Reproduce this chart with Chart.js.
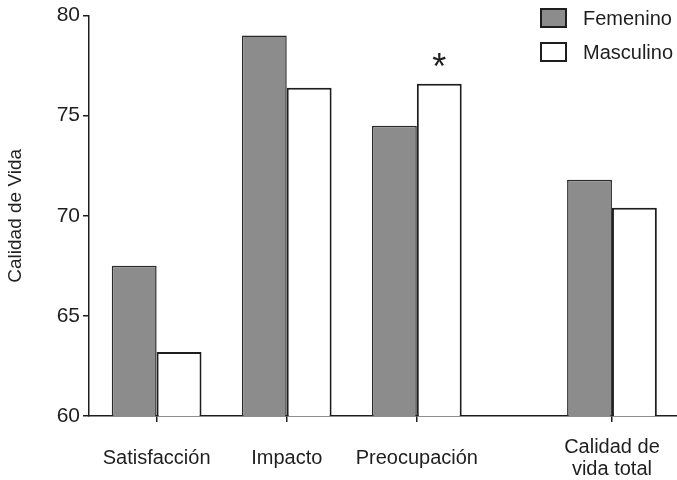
<!DOCTYPE html>
<html>
<head>
<meta charset="utf-8">
<script src="https://cdn.jsdelivr.net/npm/chart.js"></script>
<style>
  html, body { margin: 0; padding: 0; background: #fff; }
  #wrap { width: 677px; height: 480px; }
</style>
</head>
<body>
<div id="wrap"><canvas id="calidad"></canvas></div>
<script>
var categories = ['Satisfacción', 'Impacto', 'Preocupación', ['Calidad de', 'vida total']];
var slots = [1, 2, 3, 4.5]; // where each group sits on the x scale
var femenino = [67.5, 79.0, 74.5, 71.8];
var masculino = [63.2, 76.4, 76.6, 70.4];
var yTicks = [60, 65, 70, 75, 80];
var starred = 2; // Preocupación, masculino

var FONT = '"Liberation Sans", Arial, sans-serif';
var INK = '#1e1e1e';

function points(values) {
    return values.map(function (v, i) { return { x: slots[i], y: v }; });
}

// legend in the top right corner and the asterisk over the starred bar
var extras = {
    id: 'extras',
    afterDraw: function (chart) {
        var c = chart.ctx;
        c.save();
        c.font = '20px ' + FONT;
        c.textBaseline = 'middle';
        chart.data.datasets.forEach(function (ds, i) {
            var y = 18 + i * 34;
            c.fillStyle = ds.backgroundColor;
            c.fillRect(541, y - 9, 25, 18);
            c.lineWidth = 2;
            c.strokeStyle = INK;
            c.strokeRect(541, y - 9, 25, 18);
            c.fillStyle = INK;
            c.fillText(ds.label, 583, y + 1);
        });
        var bar = chart.getDatasetMeta(1).data[starred];
        c.font = '36px ' + FONT;
        c.textAlign = 'center';
        c.textBaseline = 'alphabetic';
        c.fillText('*', bar.x, bar.y - 5);
        c.restore();
    }
};

var ctx = document.getElementById('calidad').getContext('2d');
var chart = new Chart(ctx, {
    type: 'bar',
    data: {
        datasets: [{
            label: 'Femenino',
            data: points(femenino),
            backgroundColor: '#8c8c8c',
            borderColor: '#2a2a2a',
            borderWidth: 1.5
        }, {
            label: 'Masculino',
            data: points(masculino),
            backgroundColor: '#ffffff',
            borderColor: INK,
            borderWidth: 2
        }]
    },
    options: {
        responsive: true,
        maintainAspectRatio: false,
        animation: false,
        categoryPercentage: 0.69,
        barPercentage: 1,
        layout: { padding: { top: 15, right: 0, bottom: 0, left: 0 } },
        plugins: {
            legend: { display: false },
            tooltip: { enabled: false }
        },
        scales: {
            x: {
                type: 'linear',
                min: 0.48,
                max: 5,
                offset: false,
                afterBuildTicks: function (scale) {
                    scale.ticks = slots.map(function (v) { return { value: v }; });
                },
                afterFit: function (scale) {
                    scale.height = 64;
                    scale.paddingLeft = 0;
                    scale.paddingRight = 0;
                },
                grid: { display: true, offset: false, drawOnChartArea: false, drawTicks: true, tickLength: 6, color: INK, lineWidth: 1.5 },
                border: { display: true, color: INK, width: 1.5 },
                ticks: {
                    padding: 25,
                    maxRotation: 0,
                    autoSkip: false,
                    crossAlign: 'center',
                    color: INK,
                    font: { family: FONT, size: 20, lineHeight: 1.1 },
                    callback: function (v) { return categories[slots.indexOf(v)]; }
                }
            },
            y: {
                min: 60,
                max: 80,
                afterBuildTicks: function (scale) {
                    scale.ticks = yTicks.map(function (v) { return { value: v }; });
                },
                afterFit: function (scale) { scale.width = 89; },
                grid: { display: true, drawOnChartArea: false, drawTicks: true, tickLength: 6, color: INK, lineWidth: 1.5 },
                border: { display: true, color: INK, width: 1.5 },
                ticks: {
                    padding: 3,
                    color: INK,
                    font: { family: FONT, size: 21 }
                },
                title: {
                    display: true,
                    text: 'Calidad de Vida',
                    color: INK,
                    padding: { top: 4, bottom: 4 },
                    font: { family: FONT, size: 19 }
                }
            }
        }
    },
    plugins: [extras]
});
</script>
</body>
</html>
